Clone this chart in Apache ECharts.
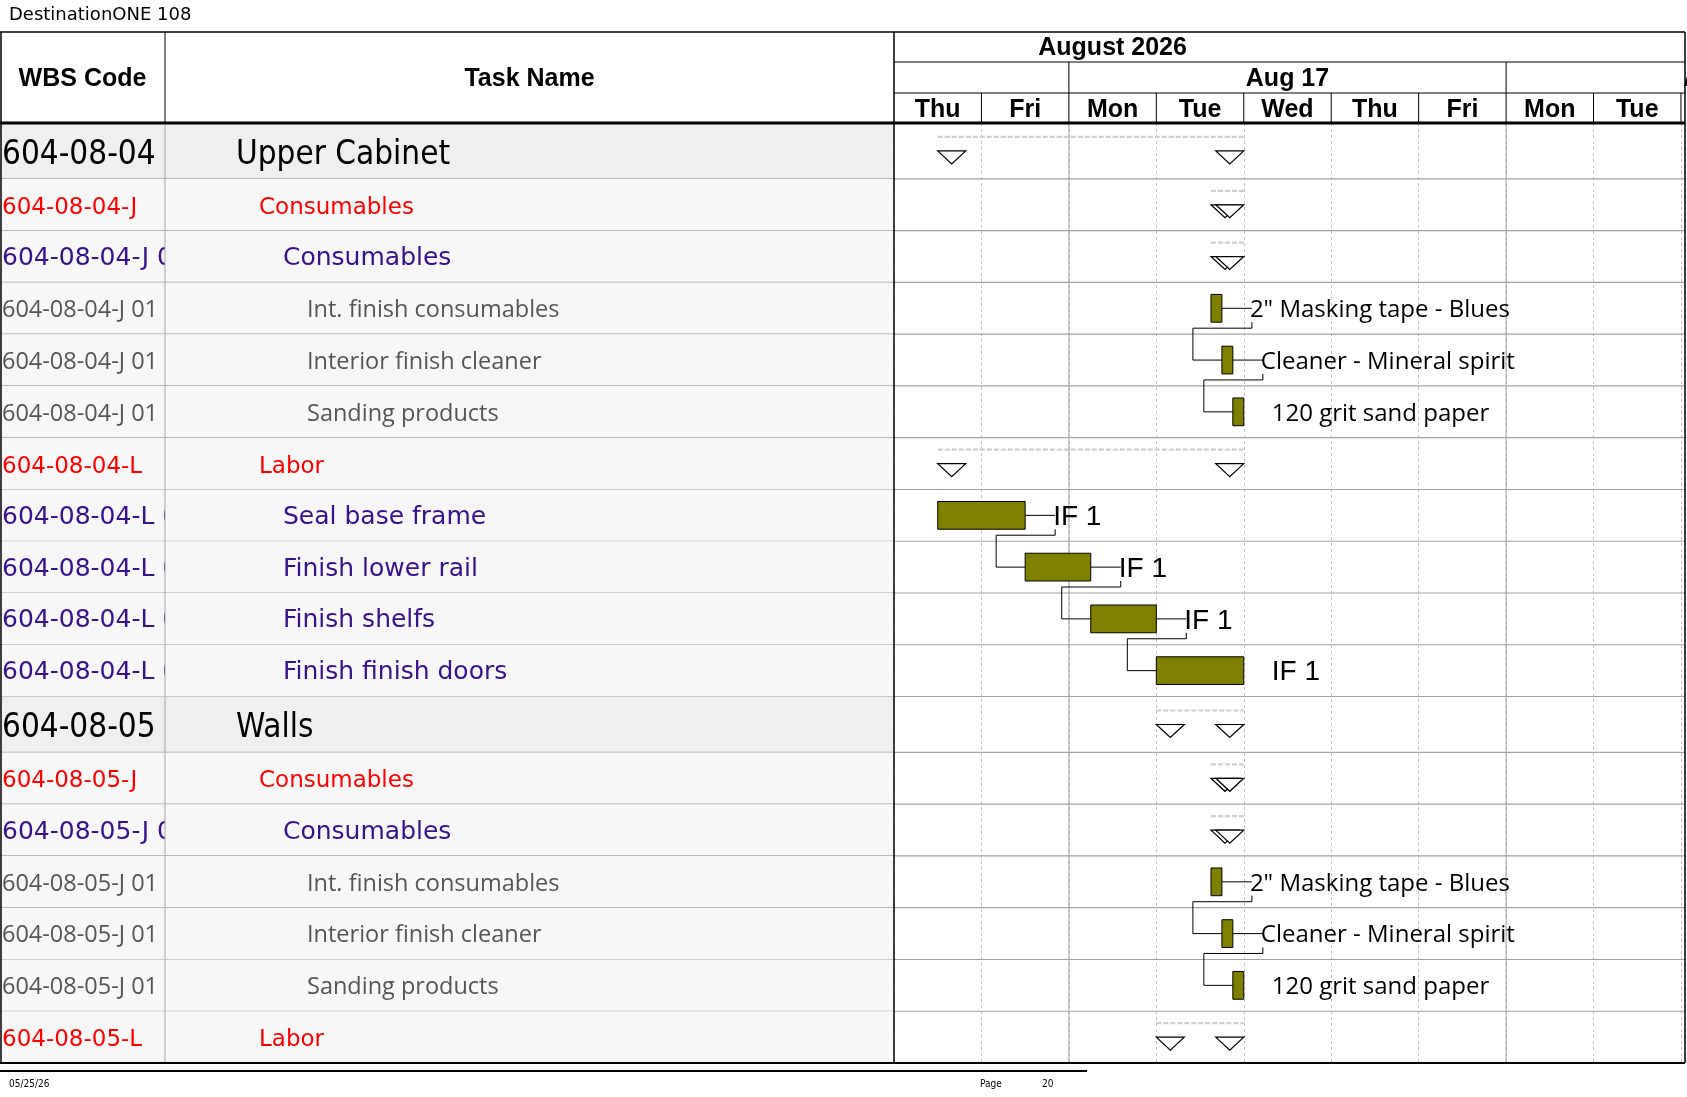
<!DOCTYPE html>
<html>
<head>
<meta charset="utf-8">
<style>html,body{margin:0;padding:0;background:#fff;}</style>
</head>
<body>
<div id="main" style="width:1687px; height:1097px;"></div>
<script src="https://cdn.jsdelivr.net/npm/echarts@6/dist/echarts.min.js"></script>
<script>
// rows of the table (top to bottom)
var rowWbs = [
	'604-08-04', '604-08-04-J', '604-08-04-J 01', '604-08-04-J 01 01', '604-08-04-J 01 02', '604-08-04-J 01 03',
	'604-08-04-L', '604-08-04-L 01', '604-08-04-L 02', '604-08-04-L 03', '604-08-04-L 04',
	'604-08-05', '604-08-05-J', '604-08-05-J 01', '604-08-05-J 01 01', '604-08-05-J 01 02', '604-08-05-J 01 03',
	'604-08-05-L'
];
var rowNames = [
	'Upper Cabinet', 'Consumables', 'Consumables', 'Int. finish consumables', 'Interior finish cleaner', 'Sanding products',
	'Labor', 'Seal base frame', 'Finish lower rail', 'Finish shelfs', 'Finish finish doors',
	'Walls', 'Consumables', 'Consumables', 'Int. finish consumables', 'Interior finish cleaner', 'Sanding products',
	'Labor'
];
var rowLevels = [0, 1, 2, 3, 3, 3, 1, 2, 2, 2, 2, 0, 1, 2, 3, 3, 3, 1];

// time scale in working days, 0 = start of Thu Aug 13 2026
var dayNames = ['Thu', 'Fri', 'Mon', 'Tue', 'Wed', 'Thu', 'Fri', 'Mon', 'Tue', 'Wed'];
var weekLabels = ['Aug 10', 'Aug 17', 'Aug 24'];
var weekStart = [-3, 2, 7];
var weekEnd = [2, 7, 12];
var monthLabels = ['August 2026'];
var monthStart = [-8];
var monthEnd = [13];

// tasks (bars)
var taskRow = [3, 4, 5, 7, 8, 9, 10, 14, 15, 16];
var taskStart = [3.625, 3.75, 3.875, 0.5, 1.5, 2.25, 3, 3.625, 3.75, 3.875];
var taskEnd = [3.75, 3.875, 4, 1.5, 2.25, 3, 4, 3.75, 3.875, 4];
var taskLabel = ['2" Masking tape - Blues', 'Cleaner - Mineral spirit', '120 grit sand paper', 'IF 1', 'IF 1', 'IF 1', 'IF 1',
	'2" Masking tape - Blues', 'Cleaner - Mineral spirit', '120 grit sand paper'];

// finish-to-start links, indices into the task arrays
var linkFrom = [0, 1, 3, 4, 5, 7, 8];
var linkTo = [1, 2, 4, 5, 6, 8, 9];

// summary rows
var summaryRow = [0, 1, 2, 6, 11, 12, 13, 17];
var summaryStart = [0.5, 3.625, 3.625, 0.5, 3, 3.625, 3.625, 3];
var summaryEnd = [4, 4, 4, 4, 4, 4, 4, 4];

// layout
var TABLE_TOP = 32, HEAD_BOTTOM = 123, BODY_BOTTOM = 1063, RIGHT = 1685;
var COL1 = 165, COL2 = 894, DAY_W = 87.44;
var BAR_RATIO = 0.536;
var HEAD_FONT = 'bold 25px "Liberation Sans", Arial';
var GRID_GRAY = '#a3a3a3';

var levelStyle = [
	{font: '33px "DejaVu Sans Condensed", "DejaVu Sans"', color: '#000000', bg: '#efefef', indent: 236, rowH: 1.08, dy: 4},
	{font: '23px "DejaVu Sans"', color: '#ff0000', bg: '#f7f7f7', indent: 259, rowH: 1, dy: 3},
	{font: '25px "DejaVu Sans"', color: '#38118c', bg: '#f7f7f7', indent: 283, rowH: 1, dy: 2},
	{font: '23.5px "Open Sans"', color: '#555555', bg: '#f7f7f7', indent: 307, rowH: 1, dy: 2}
];
var labelFont = {2: '28px "Liberation Sans", Arial', 3: '24px "Open Sans"'};

// row positions on the y value axis (in row units)
var rowUnits = rowLevels.map(function (l) { return levelStyle[l].rowH; });
var rowCenter = [];
var totalUnits = rowUnits.reduce(function (acc, u) { rowCenter.push(acc + u / 2); return acc + u; }, 0);

function txt(text, x, y, font, fill, align) {
	return {
		type: 'text',
		style: {
			text: text, x: x, y: y, font: font, fill: fill,
			align: align || 'left', textAlign: align || 'left',
			verticalAlign: 'middle', textVerticalAlign: 'middle'
		}
	};
}
function seg(x1, y1, x2, y2, color, width, dash) {
	return {
		type: 'line',
		shape: {x1: x1, y1: y1, x2: x2, y2: y2},
		style: {stroke: color, lineWidth: width || 1, lineDash: dash || null}
	};
}
function onTop(el) { el.z = 100; return el; }

var myChart = echarts.init(document.getElementById('main'));

function renderTableRow(params, api) {
	var i = params.dataIndex;
	var c = api.coord([0, api.value(1)]);
	var h = api.size([0, rowUnits[i]])[1];
	var y0 = c[1] - h / 2;
	var x1 = api.coord([COL1, api.value(1)])[0];
	var x2 = api.coord([COL2, api.value(1)])[0];
	var st = levelStyle[rowLevels[i]];
	return {
		type: 'group',
		children: [
			{type: 'rect', shape: {x: 0, y: y0, width: x1, height: h}, style: {fill: st.bg}},
			txt(rowWbs[i], 2, c[1] + st.dy, st.font, st.color),
			// task column drawn after the code so it cuts the long codes off
			{type: 'rect', shape: {x: x1, y: y0, width: x2 - x1, height: h}, style: {fill: st.bg}},
			txt(rowNames[i], st.indent, c[1] + st.dy, st.font, st.color),
			seg(x1, y0, x1, y0 + h, GRID_GRAY, 1),
			seg(0, y0 + h, RIGHT, y0 + h, GRID_GRAY, 1.2)
		]
	};
}

function renderDay(params, api) {
	var i = api.value(0);
	var x0 = api.coord([i, 0])[0];
	var x1 = api.coord([i + 1, 0])[0];
	var ch = [txt(dayNames[i], (x0 + x1) / 2, 110, HEAD_FONT, '#000', 'center')];
	if (i > 0) ch.push(seg(x0, 93, x0, HEAD_BOTTOM, '#000', 1));
	return {type: 'group', children: ch};
}

function periodLabel(label, xs, xe, y) {
	var xc = (xs + xe) / 2;
	var w = label.length * 15;
	// labels centred left of the chart are hidden by the table
	if (xc < COL2 || xc - w / 2 > 1687) return null;
	return txt(label, xc, y, HEAD_FONT, '#000', 'center');
}

function renderWeek(params, api) {
	var k = params.dataIndex;
	var xs = api.coord([api.value(0), 0])[0];
	var xe = api.coord([api.value(2), 0])[0];
	var ch = [];
	var l = periodLabel(weekLabels[k], xs, xe, 79.5);
	if (l) ch.push(l);
	if (xs > COL2 + 1 && xs < RIGHT) {
		ch.push(seg(xs, 62, xs, 93, '#000', 1));
		ch.push(seg(xs, HEAD_BOTTOM, xs, BODY_BOTTOM, GRID_GRAY, 1));
	}
	return {type: 'group', children: ch};
}

function renderMonth(params, api) {
	var k = params.dataIndex;
	var xs = api.coord([api.value(0), 0])[0];
	var xe = api.coord([api.value(2), 0])[0];
	var ch = [];
	var l = periodLabel(monthLabels[k], xs, xe, 48);
	if (l) ch.push(l);
	return {type: 'group', children: ch};
}

function renderSummary(params, api) {
	var s = api.coord([api.value(0), api.value(1)]);
	var e = api.coord([api.value(2), api.value(1)]);
	var cy = s[1];
	return {
		type: 'group',
		children: [
			seg(s[0], cy - 14, e[0], cy - 14, '#cfcfcf', 2.2, [5, 2]),
			{type: 'polygon', shape: {points: [[s[0], cy], [s[0] + 28, cy], [s[0] + 14, cy + 13]]},
				style: {fill: '#fff', stroke: '#000', lineWidth: 1.2}},
			{type: 'polygon', shape: {points: [[e[0] - 28, cy], [e[0], cy], [e[0] - 14, cy + 13]]},
				style: {fill: '#fff', stroke: '#000', lineWidth: 1.2}}
		]
	};
}

function renderTask(params, api) {
	var k = params.dataIndex;
	var s = api.coord([api.value(0), api.value(1)]);
	var e = api.coord([api.value(2), api.value(1)]);
	var bh = api.size([0, 1])[1] * BAR_RATIO;
	return {
		type: 'group',
		children: [
			{type: 'rect', shape: {x: s[0], y: s[1] - bh / 2, width: e[0] - s[0], height: bh},
				style: {fill: '#808000', stroke: '#000', lineWidth: 1}},
			txt(taskLabel[k], e[0] + 28, s[1] + 2, labelFont[rowLevels[taskRow[k]]], '#000')
		]
	};
}

function renderLink(params, api) {
	var k = params.dataIndex;
	var f = linkFrom[k], t = linkTo[k];
	var pe = api.coord([taskEnd[f], rowCenter[taskRow[f]]]);
	var ss = api.coord([taskStart[t], rowCenter[taskRow[t]]]);
	var half = api.size([0, 1])[1] * BAR_RATIO / 2;
	var xa = pe[0] + 30, ym = pe[1] + half + 6, xb = ss[0] - 29;
	var ls = {stroke: '#000', fill: null, lineWidth: 1};
	return {
		type: 'group',
		children: [
			{type: 'polyline', shape: {points: [[pe[0], pe[1]], [xa, pe[1]]]}, style: ls},
			{type: 'polyline', shape: {points: [[xa, pe[1] + half], [xa, ym], [xb, ym], [xb, ss[1]], [ss[0], ss[1]]]}, style: ls}
		]
	};
}

var foot = '10px "DejaVu Sans Condensed", "DejaVu Sans"';

myChart.setOption({
	animation: false,
	backgroundColor: '#fff',
	grid: [
		{left: 0, top: HEAD_BOTTOM, width: COL2, height: BODY_BOTTOM - HEAD_BOTTOM},
		{left: COL2, top: HEAD_BOTTOM, width: RIGHT - COL2, height: BODY_BOTTOM - HEAD_BOTTOM}
	],
	xAxis: [
		{gridIndex: 0, type: 'value', min: 0, max: COL2, show: false},
		{
			gridIndex: 1, type: 'value', min: 0, max: (RIGHT - COL2) / DAY_W, interval: 1,
			axisLine: {show: false}, axisTick: {show: false}, axisLabel: {show: false},
			splitLine: {show: true, lineStyle: {color: '#c2c2c2', width: 1, type: [3, 3]}}
		}
	],
	yAxis: [
		{gridIndex: 0, type: 'value', min: 0, max: totalUnits, inverse: true, show: false},
		{gridIndex: 1, type: 'value', min: 0, max: totalUnits, inverse: true, show: false}
	],
	series: [
		{
			type: 'custom', name: 'table', xAxisIndex: 0, yAxisIndex: 0, silent: true, z: 1,
			renderItem: renderTableRow,
			data: rowWbs.map(function (d, i) { return [0, rowCenter[i]]; })
		},
		{
			type: 'custom', name: 'days', xAxisIndex: 1, yAxisIndex: 1, silent: true, z: 2,
			renderItem: renderDay,
			data: dayNames.map(function (d, i) { return [i, 0]; })
		},
		{
			type: 'custom', name: 'weeks', xAxisIndex: 1, yAxisIndex: 1, silent: true, z: 2,
			renderItem: renderWeek,
			data: weekStart.map(function (s, k) { return [s, 0, weekEnd[k]]; })
		},
		{
			type: 'custom', name: 'months', xAxisIndex: 1, yAxisIndex: 1, silent: true, z: 2,
			renderItem: renderMonth,
			data: monthStart.map(function (s, k) { return [s, 0, monthEnd[k]]; })
		},
		{
			type: 'custom', name: 'summary', xAxisIndex: 1, yAxisIndex: 1, silent: true, z: 3,
			renderItem: renderSummary,
			data: summaryRow.map(function (r, k) { return [summaryStart[k], rowCenter[r], summaryEnd[k]]; })
		},
		{
			type: 'custom', name: 'links', xAxisIndex: 1, yAxisIndex: 1, silent: true, z: 3,
			renderItem: renderLink,
			data: linkFrom.map(function (f, k) { return [taskStart[linkTo[k]], rowCenter[taskRow[linkTo[k]]], f]; })
		},
		{
			type: 'custom', name: 'tasks', xAxisIndex: 1, yAxisIndex: 1, silent: true, z: 4,
			renderItem: renderTask,
			data: taskRow.map(function (r, k) { return [taskStart[k], rowCenter[r], taskEnd[k]]; })
		}
	],
	graphic: [
		onTop({type: 'text', x: 9, y: 15, style: {text: 'DestinationONE 108', font: '18px "DejaVu Sans"', fill: '#000', verticalAlign: 'middle', textVerticalAlign: 'middle'}}),
		onTop({type: 'text', x: COL1 / 2, y: 79.5, style: {text: 'WBS Code', font: HEAD_FONT, fill: '#000', align: 'center', textAlign: 'center', verticalAlign: 'middle', textVerticalAlign: 'middle'}}),
		onTop({type: 'text', x: (COL1 + COL2) / 2, y: 79.5, style: {text: 'Task Name', font: HEAD_FONT, fill: '#000', align: 'center', textAlign: 'center', verticalAlign: 'middle', textVerticalAlign: 'middle'}}),
		onTop(seg(0, TABLE_TOP, RIGHT, TABLE_TOP, '#000', 1.5)),
		onTop(seg(1, TABLE_TOP, 1, BODY_BOTTOM, '#000', 1.5)),
		onTop(seg(RIGHT, TABLE_TOP, RIGHT, BODY_BOTTOM, '#000', 1.5)),
		onTop(seg(COL1, TABLE_TOP, COL1, HEAD_BOTTOM, '#000', 1)),
		onTop(seg(COL2, TABLE_TOP, COL2, BODY_BOTTOM, '#000', 1.5)),
		onTop(seg(COL2, 62, RIGHT, 62, '#000', 1)),
		onTop(seg(COL2, 93, RIGHT, 93, '#000', 1)),
		onTop(seg(0, HEAD_BOTTOM, RIGHT, HEAD_BOTTOM, '#000', 3)),
		onTop(seg(0, BODY_BOTTOM, RIGHT, BODY_BOTTOM, '#000', 2)),
		onTop(seg(0, 1071, 1087, 1071, '#000', 2)),
		onTop({type: 'text', x: 9, y: 1084, style: {text: '05/25/26', font: foot, fill: '#000', verticalAlign: 'middle', textVerticalAlign: 'middle'}}),
		onTop({type: 'text', x: 980, y: 1084, style: {text: 'Page', font: foot, fill: '#000', verticalAlign: 'middle', textVerticalAlign: 'middle'}}),
		onTop({type: 'text', x: 1042, y: 1084, style: {text: '20', font: foot, fill: '#000', verticalAlign: 'middle', textVerticalAlign: 'middle'}})
	]
});
</script>
</body>
</html>
